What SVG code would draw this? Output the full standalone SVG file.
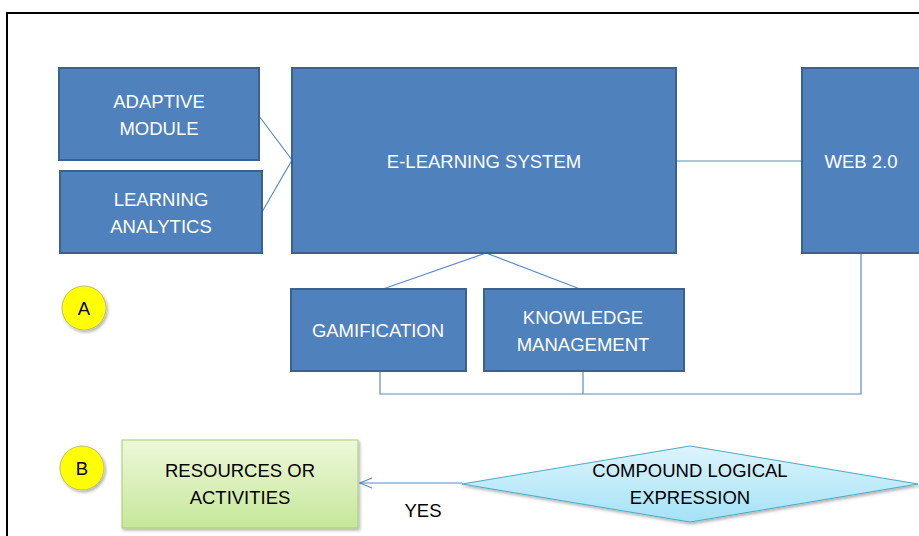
<svg xmlns="http://www.w3.org/2000/svg" width="919" height="536" viewBox="0 0 919 536">
<style>
.box{fill:#4F81BD;stroke:#3A6291;stroke-width:2}
.wt{font-family:"Liberation Sans",Arial,sans-serif;font-size:18.5px;fill:#FFFFFF;text-anchor:middle}
.bt{font-family:"Liberation Sans",Arial,sans-serif;font-size:18.5px;fill:#000000;text-anchor:middle}
.con{fill:none;stroke:#5B8BC9;stroke-width:1.2}
.circ{fill:#FFFF00;stroke:#BFBF6A;stroke-width:1}
</style>
<defs>
<linearGradient id="gG" x1="0" y1="0" x2="0" y2="1">
<stop offset="0" stop-color="#EEF8DA"/>
<stop offset="1" stop-color="#C6E79A"/>
</linearGradient>
<linearGradient id="gC" x1="0" y1="0" x2="0" y2="1">
<stop offset="0" stop-color="#DDF4FC"/>
<stop offset="1" stop-color="#A4E2F8"/>
</linearGradient>
<filter id="sh" x="-20%" y="-20%" width="150%" height="150%">
<feDropShadow dx="1.5" dy="2" stdDeviation="1.5" flood-color="#000" flood-opacity="0.3"/>
</filter>
<marker id="arr" markerWidth="16" markerHeight="14" refX="14" refY="7" orient="auto" markerUnits="userSpaceOnUse">
<path d="M2,2 L14,7 L2,12" fill="none" stroke="#5B8BC9" stroke-width="1.2"/>
</marker>
</defs>
<rect width="919" height="536" fill="#FFFFFF"/>
<path d="M7,536 V13 H919" fill="none" stroke="#000" stroke-width="2"/>
<g id="connectors">
<path class="con" d="M259,116 L292,160 L262,212"/>
<path class="con" d="M676,161 H801"/>
<path class="con" d="M383,289 L486,253 L580,289"/>
<path class="con" d="M380,371 V394 H861 V253"/>
<path class="con" d="M583,371 V394"/>
<path class="con" d="M462,483 H360" marker-end="url(#arr)"/>
</g>
<g id="adaptive"><rect class="box" x="59" y="68" width="200" height="92"/><text class="wt" x="159" y="108">ADAPTIVE</text><text class="wt" x="159" y="135">MODULE</text></g>
<g id="analytics"><rect class="box" x="60" y="171" width="202" height="82"/><text class="wt" x="161" y="206">LEARNING</text><text class="wt" x="161" y="233">ANALYTICS</text></g>
<g id="elearning"><rect class="box" x="292" y="68" width="384" height="185"/><text class="wt" x="484" y="168">E-LEARNING SYSTEM</text></g>
<g id="web"><rect class="box" x="802" y="68" width="130" height="185"/><text class="wt" x="861" y="168">WEB 2.0</text></g>
<g id="gamification"><rect class="box" x="291" y="289" width="175" height="82"/><text class="wt" x="378" y="337">GAMIFICATION</text></g>
<g id="knowledge"><rect class="box" x="484" y="289" width="200" height="82"/><text class="wt" x="583" y="324">KNOWLEDGE</text><text class="wt" x="583" y="351">MANAGEMENT</text></g>
<g id="labelA"><circle class="circ" cx="84" cy="308" r="22" filter="url(#sh)"/><text class="bt" x="84" y="315">A</text></g>
<g id="labelB"><circle class="circ" cx="82" cy="468" r="22" filter="url(#sh)"/><text class="bt" x="82" y="475">B</text></g>
<g id="resources"><rect x="122" y="440" width="236" height="88" fill="url(#gG)" stroke="#A9CC74" stroke-width="1" filter="url(#sh)"/><text class="bt" x="240" y="477">RESOURCES OR</text><text class="bt" x="240" y="504">ACTIVITIES</text></g>
<g id="compound"><path d="M462,484 L690,446 L918,484 L690,522 Z" fill="url(#gC)" stroke="#4BACC6" stroke-width="1" filter="url(#sh)"/><text class="bt" x="690" y="477">COMPOUND LOGICAL</text><text class="bt" x="690" y="504">EXPRESSION</text></g>
<g id="yes"><text class="bt" x="423" y="517">YES</text></g>
</svg>
